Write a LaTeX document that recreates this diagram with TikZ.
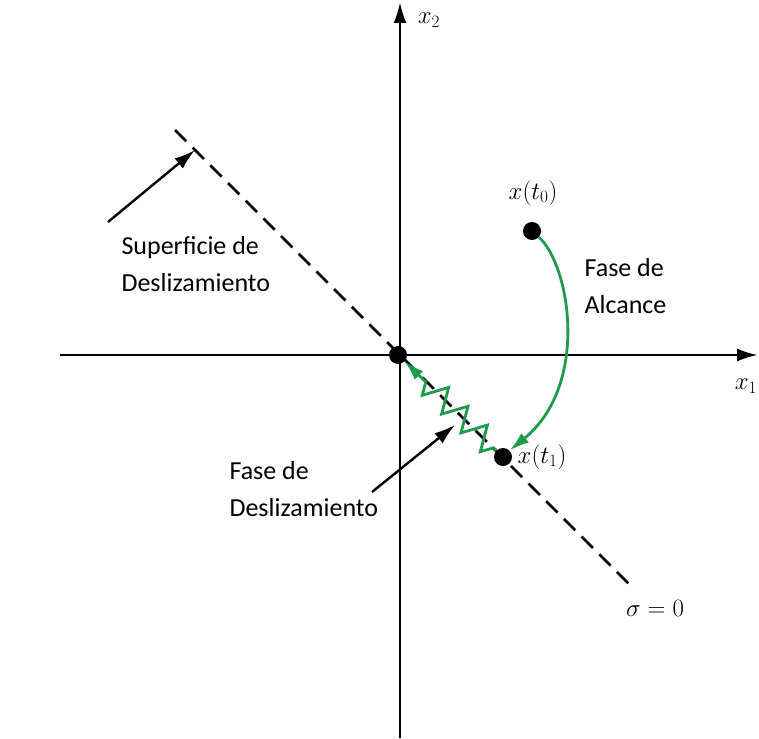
\documentclass[tikz,border=0pt]{standalone}
\usepackage{fontspec}
\newfontfamily\lblfont{Carlito}
\usetikzlibrary{arrows.meta,decorations.pathmorphing,positioning}
\definecolor{grn}{RGB}{30,155,75}

\begin{document}
\begin{tikzpicture}[x=1pt,y=-1pt,>={Latex[length=21pt,width=13pt]},
 axis/.style={line width=2.6pt,->},
 dot/.style={circle,fill=black,inner sep=0pt,minimum size=18pt},
 lbl/.style={font=\lblfont\fontsize{26}{37}\selectfont,align=left,anchor=west},
 mth/.style={font=\fontsize{25}{30}\selectfont},
 pointer/.style={line width=2.4pt,-{Latex[length=21pt,width=13pt]}},
 trail/.style={draw=grn,line width=2.8pt,-{Latex[length=20pt,width=12pt]}}]
\useasboundingbox (0,0) rectangle (759,738);
% axes
\coordinate (xl) at (60,355);
\coordinate (xr) at (758,355);
\coordinate (yb) at (400,738);
\coordinate (yt) at (400,2);
\draw[axis] (xl)--(xr);
\draw[axis] (yb)--(yt);
\node[mth] (lx1) at (746,386) {$x_1$};
\node[mth] (lx2) at (429,20) {$x_2$};
% sliding surface
\coordinate (s0) at (175,130);
\coordinate (s1) at (633,588);
\draw[line width=2.6pt,dash pattern=on 16pt off 9pt] (s0)--(s1);
\node[mth] (sig) at (655,608) {$\sigma=0$};
% states
\node[dot] (o) at (398,355) {};
\node[dot] (p0) at (532,231) {};
\node[dot] (p1) at (503,457) {};
\node[mth] (l0) at (533,193) {$x(t_0)$};
\node[mth,right=2pt of p1] (l1) {$x(t_1)$};
% reaching and sliding phases
\draw[trail] (p0) .. controls (570,265) and (590,385) .. (p1.north east);
\draw[trail,decorate,decoration={zigzag,segment length=27pt,amplitude=12pt,pre length=4pt,post length=22pt}] (p1)--(o);
% labels
\node[lbl] (sup) at (118,264) {Superficie de\\Deslizamiento};
\node[lbl] (fd) at (226,489) {Fase de\\Deslizamiento};
\node[lbl] (fa) at (581,286) {Fase de\\Alcance};
\coordinate (a0) at (108,222);
\coordinate (a1) at (195,150);
\coordinate (b0) at (372,492);
\coordinate (b1) at (455,425);
\draw[pointer] (a0)--(a1);
\draw[pointer] (b0)--(b1);
\end{tikzpicture}
\end{document}
